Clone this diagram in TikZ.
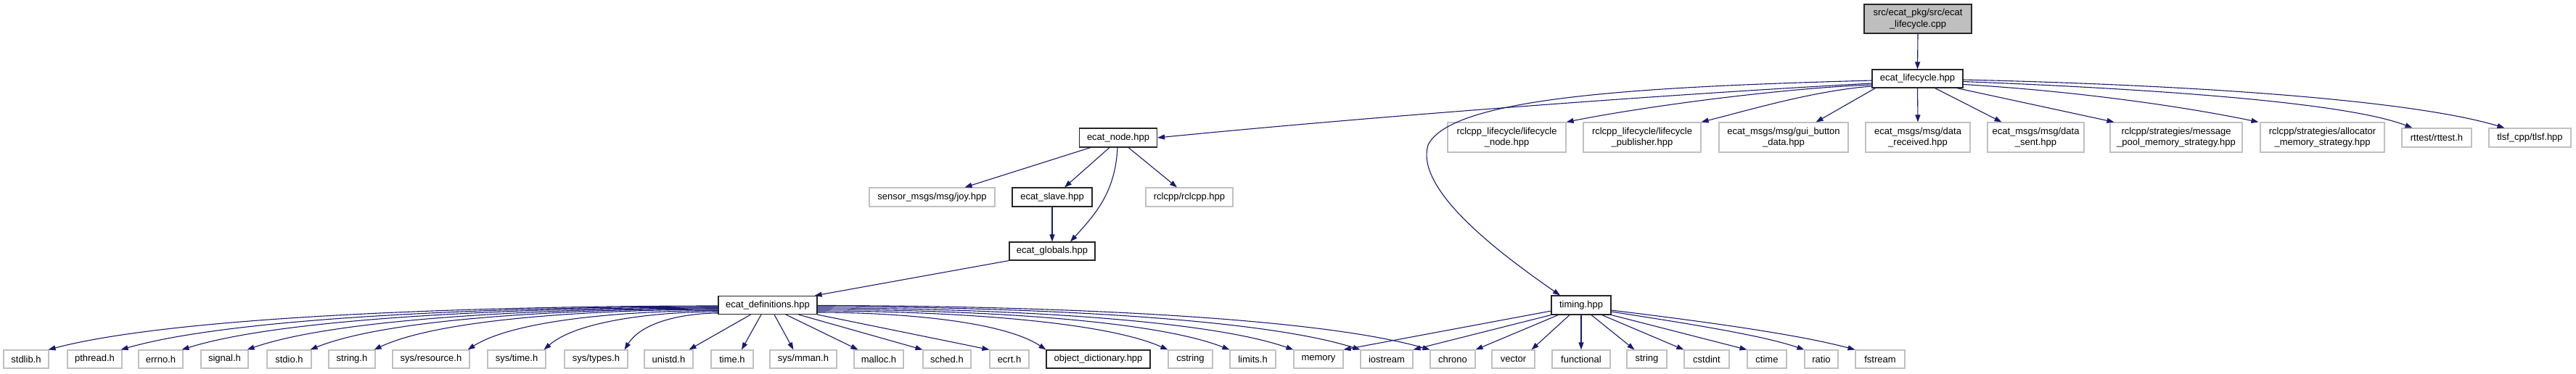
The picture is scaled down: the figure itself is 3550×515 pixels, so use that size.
\documentclass[tikz,border=0pt]{standalone}
\usepackage{fontspec}
\setmainfont{Liberation Sans}
\usetikzlibrary{arrows.meta,calc}
\definecolor{edgeblue}{HTML}{191970}
\definecolor{bordgray}{HTML}{C0C0C0}
\definecolor{topfill}{HTML}{BFBFBF}
\newcommand\dgfont{\fontsize{13}{15.5}\selectfont}
\tikzset{
  nd/.style={rectangle, draw=bordgray, line width=1.1pt, inner sep=0pt, align=center, font=\dgfont, fill=white},
  docnd/.style={nd, draw=black!85},
  edge/.style={draw=edgeblue, line width=1.1pt, -{Triangle[length=10pt,width=7pt]}},
}
\begin{document}
\begin{tikzpicture}[x=1pt,y=-1pt]
\useasboundingbox (0,0) rectangle (3550,515);
% rows
\node[docnd, fill=topfill, minimum width=148pt, minimum height=40pt] (top) at (2643,26) {src/ecat\_pkg/src/ecat\\\_lifecycle.cpp};
\node[docnd, minimum width=125pt, minimum height=25pt] (lc) at (2642.5,108.5) {ecat\_lifecycle.hpp};
\node[docnd, minimum width=107pt, minimum height=26pt] (node) at (1541,190) {ecat\_node.hpp};
\node[nd, minimum width=163pt, minimum height=41pt] (rlnode) at (2076.5,189.5) {rclcpp\_lifecycle/lifecycle\\\_node.hpp};
\node[nd, minimum width=162pt, minimum height=41pt] (rlpub) at (2263,189.5) {rclcpp\_lifecycle/lifecycle\\\_publisher.hpp};
\node[nd, minimum width=178pt, minimum height=41pt] (gui) at (2458,189.5) {ecat\_msgs/msg/gui\_button\\\_data.hpp};
\node[nd, minimum width=144pt, minimum height=41pt] (drecv) at (2643,189.5) {ecat\_msgs/msg/data\\\_received.hpp};
\node[nd, minimum width=133pt, minimum height=41pt] (dsent) at (2805.5,189.5) {ecat\_msgs/msg/data\\\_sent.hpp};
\node[nd, minimum width=182pt, minimum height=41pt] (mpool) at (2999,189.5) {rclcpp/strategies/message\\\_pool\_memory\_strategy.hpp};
\node[nd, minimum width=171pt, minimum height=41pt] (alloc) at (3200.5,189.5) {rclcpp/strategies/allocator\\\_memory\_strategy.hpp};
\node[nd, minimum width=96pt, minimum height=26pt] (rttest) at (3358,190) {rttest/rttest.h};
\node[nd, minimum width=113pt, minimum height=26pt] (tlsf) at (3486.5,190) {tlsf\_cpp/tlsf.hpp};
\node[nd, minimum width=173pt, minimum height=26pt] (joy) at (1284.5,272) {sensor\_msgs/msg/joy.hpp};
\node[docnd, minimum width=110pt, minimum height=26pt] (slave) at (1450,272) {ecat\_slave.hpp};
\node[nd, minimum width=120pt, minimum height=26pt] (rclcpp) at (1639,272) {rclcpp/rclcpp.hpp};
\node[docnd, minimum width=118pt, minimum height=25pt] (globals) at (1450,346.5) {ecat\_globals.hpp};
\node[docnd, minimum width=136pt, minimum height=25pt] (defs) at (1058,421) {ecat\_definitions.hpp};
\node[docnd, minimum width=82pt, minimum height=26pt] (timing) at (2179,421) {timing.hpp};
% bottom row
\foreach \nm/\cx/\w/\txt in {stdlib/36/62/{stdlib.h}, pthread/130.5/75/{pthread.h}, errno/221.5/61/{errno.h}, signal/309.5/65/{signal.h}, stdio/398.5/61/{stdio.h}, stringh/485/64/{string.h}, sysres/594/106/{sys/resource.h}, systime/712/80/{sys/time.h}, systypes/821.5/87/{sys/types.h}, unistd/921.5/67/{unistd.h}, timeh/1009/58/{time.h}, mman/1107/92/{sys/mman.h}, malloc/1211/68/{malloc.h}, sched/1305/66/{sched.h}, ecrt/1391/54/{ecrt.h}, cstring/1640.5/61/{cstring}, limits/1726.5/63/{limits.h}, memory/1817/68/{memory}, iostream/1911/72/{iostream}, chrono/2002/62/{chrono}, vector/2085.5/59/{vector}, functional/2179/80/{functional}, stringcpp/2269.5/55/{string}, cstdint/2352/62/{cstdint}, ctime/2435/54/{ctime}, ratio/2510/46/{ratio}, fstream/2591/68/{fstream}}
  \node[nd, minimum width=\w pt, minimum height=25pt] (\nm) at (\cx,495.5) {\txt};
\node[docnd, minimum width=143pt, minimum height=25pt] (objd) at (1513.5,495.5) {object\_dictionary.hpp};
% edges from top
\draw[edge] (top.south) -- (lc.north);
% edges from ecat_lifecycle.hpp
\draw[edge] ($(lc.west)+(0,2.5)$) .. controls (2250,120) and (2000,135) .. (1968,200) .. controls (1950,260) and (2060,345) .. ($(timing.north)+(-29,0)$);
\draw[edge] ($(lc.west)+(0,6.5)$) .. controls (2300,130) and (1900,160) .. (node.east);
\draw[edge] ($(lc.west)+(0,8.5)$) .. controls (2450,122) and (2260,148) .. (rlnode.north east);
\draw[edge] ($(lc.west)+(0,10.5)$) .. controls (2500,125) and (2410,152) .. (rlpub.north east);
\draw[edge] ($(lc.south west)+(5,0)$) -- ($(gui.north east)+(-45,0)$);
\draw[edge] (lc.south) -- (drecv.north);
\draw[edge] ($(lc.south)+(24,0)$) -- ($(dsent.north)+(-47,0)$);
\draw[edge] ($(lc.south east)+(-9,0)$) -- ($(mpool.north west)+(6,0)$);
\draw[edge] ($(lc.east)+(0,8)$) .. controls (2850,125) and (3000,145) .. ($(alloc.north west)+(-2,0)$);
\draw[edge] ($(lc.east)+(0,4)$) .. controls (2950,122) and (3230,140) .. ($(rttest.north west)+(15,0)$);
\draw[edge] ($(lc.east)+(0,1.5)$) .. controls (3050,118) and (3330,140) .. ($(tlsf.north west)+(22,0)$);
% edges from ecat_node.hpp
\draw[edge] ($(node.south west)+(16,0)$) -- ($(joy.north)+(45,0)$);
\draw[edge] ($(node.south)+(-12,0)$) -- ($(slave.north)+(17,0)$);
\draw[edge] ($(node.south)+(-1,0)$) .. controls (1537,265) and (1510,295) .. ($(globals.north)+(25,0)$);
\draw[edge] ($(node.south)+(14,0)$) -- ($(rclcpp.north)+(-17,0)$);
\draw[edge] (slave.south) -- (globals.north);
\draw[edge] (globals.south west) -- ($(defs.north east)+(-4,0)$);
% edges from ecat_definitions.hpp (left)
\draw[edge] ($(defs.west)+(0,1)$) .. controls (694,422) and (251,434) .. ($(stdlib.north east)+(-1,0)$);
\draw[edge] ($(defs.west)+(0,2)$) .. controls (726,423) and (331,435) .. ($(pthread.north east)+(-2,0)$);
\draw[edge] ($(defs.west)+(0,3)$) .. controls (753,424) and (398,436) .. ($(errno.north east)+(-2,0)$);
\draw[edge] ($(defs.west)+(0,4)$) .. controls (782,425) and (470,437) .. ($(signal.north east)+(-2,0)$);
\draw[edge] ($(defs.west)+(0,5)$) .. controls (810,426) and (540,437) .. ($(stdio.north east)+(-2,0)$);
\draw[edge] ($(defs.west)+(0,6)$) .. controls (838,427) and (610,438) .. ($(stringh.north east)+(-2,0)$);
\draw[edge] ($(defs.west)+(0,7.5)$) .. controls (879,428.5) and (713,439) .. ($(sysres.north east)+(-3,0)$);
\draw[edge] ($(defs.west)+(0,9)$) .. controls (913,430) and (797,441) .. ($(systime.north east)+(-3,0)$);
\draw[edge] ($(defs.west)+(0,11)$) .. controls (948,432) and (886,442) .. ($(systypes.north east)+(-5,0)$);
% bottom
\draw[edge] ($(defs.south west)+(45,0)$) -- ($(unistd.north east)+(-6,0)$);
\draw[edge] ($(defs.south)+(-9,0)$) -- ($(timeh.north)+(13,0)$);
\draw[edge] ($(defs.south)+(9,0)$) -- ($(mman.north west)+(33,0)$);
\draw[edge] ($(defs.south)+(25,0)$) -- ($(malloc.north west)+(6,0)$);
\draw[edge] ($(defs.south east)+(-26,0)$) -- (sched.north west);
\draw[edge] (defs.south east) -- (ecrt.north west);
% right
\draw[edge] ($(defs.east)+(0,10)$) .. controls (1227,431) and (1379,441) .. (objd.north west);
\draw[edge] ($(defs.east)+(0,8)$) .. controls (1281,429) and (1513,440) .. (cstring.north west);
\draw[edge] ($(defs.east)+(0,6)$) .. controls (1308,427) and (1581,438) .. (limits.north west);
\draw[edge] ($(defs.east)+(0,4)$) .. controls (1336,425) and (1652,437) .. (memory.north west);
\draw[edge] ($(defs.east)+(0,2)$) .. controls (1366,423) and (1725,435) .. (iostream.north west);
\draw[edge] ($(defs.east)+(0,0.5)$) .. controls (1396,421.5) and (1802,434) .. (chrono.north west);
% edges from timing.hpp
\draw[edge] ($(timing.west)+(0,8)$) -- (memory.north east);
\draw[edge] (timing.south west) -- (iostream.north east);
\draw[edge] ($(timing.south west)+(10,0)$) -- (chrono.north east);
\draw[edge] ($(timing.south)+(-16,0)$) -- ($(vector.north east)+(-5,0)$);
\draw[edge] (timing.south) -- (functional.north);
\draw[edge] ($(timing.south)+(14,0)$) -- ($(stringcpp.north west)+(11,0)$);
\draw[edge] ($(timing.south east)+(-13,0)$) -- (cstdint.north west);
\draw[edge] (timing.south east) -- (ctime.north west);
\draw[edge] ($(timing.east)+(0,9)$) .. controls (2330,447) and (2430,463) .. (ratio.north west);
\draw[edge] ($(timing.east)+(0,7)$) .. controls (2360,445) and (2480,462) .. (fstream.north west);
\end{tikzpicture}
\end{document}
